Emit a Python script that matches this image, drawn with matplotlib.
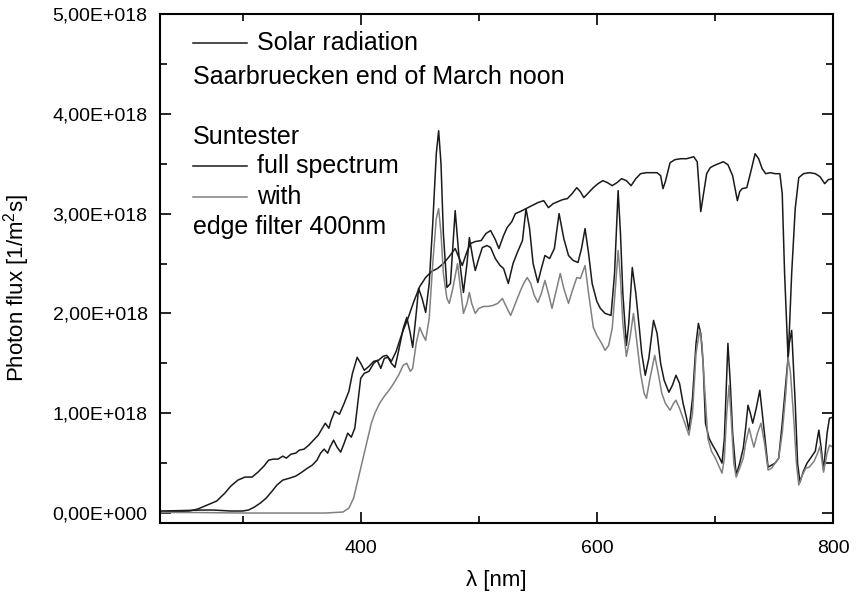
import numpy as np
import matplotlib
matplotlib.use("Agg")
import matplotlib.pyplot as plt
from matplotlib.ticker import FuncFormatter, MultipleLocator

plt.rcParams['font.family'] = ['Liberation Sans', 'DejaVu Sans']
plt.rcParams['mathtext.default'] = 'regular'

SCALE = 1e18

# Solar radiation, Saarbruecken end of March noon (values in 1E18 /m^2 s)
solar_wl = [230, 245, 255, 262, 270, 278, 285, 290, 296, 302, 308, 313, 318, 322, 326, 330,
            334, 337, 341, 345, 348, 352, 356, 360, 364, 368, 370, 373, 375, 378, 382, 386,
            390, 393, 397, 400, 403, 407, 411, 415, 419, 422, 426, 430, 435, 440, 445, 450,
            455, 460, 465, 470, 475, 480, 486, 490, 493, 497, 502, 506, 510, 514, 517, 521,
            524, 528, 531, 535, 540, 545, 550, 555, 559, 563, 567, 571, 575, 579, 583, 586,
            589, 593, 597, 601, 605, 609, 613, 617, 621, 625, 629, 633, 637, 642, 647, 651,
            654, 656, 658, 662, 666, 671, 676, 682, 685, 688, 691, 693, 696, 699, 703, 707,
            711, 715, 719, 721, 723, 727, 731, 734, 737, 740, 743, 747, 751, 755, 757, 759,
            762, 765, 768, 771, 775, 780, 785, 789, 793, 796, 800]
solar_val = [0.01, 0.015, 0.02, 0.04, 0.08, 0.12, 0.20, 0.27, 0.33, 0.36, 0.36, 0.41, 0.47, 0.53, 0.54, 0.54,
             0.57, 0.55, 0.59, 0.60, 0.63, 0.64, 0.68, 0.73, 0.78, 0.86, 0.90, 0.85, 0.93, 1.02, 0.99, 1.10,
             1.22, 1.40, 1.56, 1.50, 1.43, 1.47, 1.52, 1.53, 1.57, 1.58, 1.52, 1.62, 1.80, 1.95, 2.12, 2.27,
             2.36, 2.42, 2.45, 2.50, 2.57, 2.65, 2.48, 2.62, 2.70, 2.72, 2.73, 2.80, 2.83, 2.74, 2.65, 2.78,
             2.86, 2.92, 3.00, 3.02, 3.05, 3.08, 3.11, 3.13, 3.06, 3.10, 3.12, 3.14, 3.15, 3.20, 3.26, 3.22,
             3.16, 3.21, 3.26, 3.30, 3.33, 3.31, 3.28, 3.31, 3.35, 3.33, 3.28, 3.35, 3.40, 3.41, 3.41, 3.41,
             3.38, 3.25, 3.32, 3.51, 3.54, 3.55, 3.55, 3.57, 3.52, 3.02, 3.25, 3.40, 3.46, 3.48, 3.50, 3.52,
             3.49, 3.38, 3.13, 3.22, 3.25, 3.26, 3.45, 3.60, 3.55, 3.45, 3.40, 3.41, 3.40, 3.40, 3.20, 2.40,
             1.53, 2.40, 3.05, 3.36, 3.40, 3.41, 3.40, 3.37, 3.30, 3.34, 3.35]

# Suntester, full spectrum
full_wl = [230, 250, 265, 275, 290, 300, 305, 310, 315, 320, 325, 329, 334, 340, 345, 349,
           355, 359, 363, 366, 369, 372, 374, 377, 380, 383, 386, 389, 392, 395, 398, 400,
           403, 407, 411, 414, 417, 420, 423, 426, 429, 432, 436, 439, 442, 444, 447, 449,
           452, 455, 458, 461, 464, 466, 468, 470, 473, 476, 480, 483, 487, 490, 492, 495,
           497, 500, 503, 507, 510, 514, 518, 521, 525, 529, 533, 537, 540, 543, 546, 550,
           553, 556, 560, 564, 568, 572, 576, 580, 584, 587, 590, 593, 596, 600, 603, 607,
           612, 615, 618, 620, 622, 625, 627, 630, 633, 636, 638, 641, 644, 648, 651, 654,
           657, 661, 664, 667, 670, 673, 676, 678, 681, 684, 686, 688, 690, 692, 695, 698,
           701, 704, 706, 708, 710, 711, 713, 715, 718, 721, 724, 726, 728, 730, 732, 735,
           738, 741, 745, 748, 751, 754, 757, 760, 763, 765, 768, 770, 772, 775, 778, 781,
           785, 788, 790, 792, 795, 797, 800]
full_val = [0.02, 0.025, 0.03, 0.03, 0.02, 0.02, 0.03, 0.06, 0.10, 0.15, 0.22, 0.28, 0.33, 0.35, 0.37, 0.40,
            0.45, 0.48, 0.53, 0.60, 0.64, 0.60, 0.66, 0.73, 0.66, 0.61, 0.70, 0.80, 0.76, 0.85, 1.15, 1.35,
            1.40, 1.42, 1.50, 1.53, 1.45, 1.55, 1.56, 1.50, 1.46, 1.62, 1.85, 1.96, 1.80, 1.66, 2.00, 2.25,
            2.15, 2.01, 2.30, 2.90, 3.60, 3.83, 3.50, 2.80, 2.26, 2.30, 3.03, 2.60, 2.21, 2.50, 2.76, 2.55,
            2.43, 2.55, 2.66, 2.68, 2.66, 2.55, 2.48, 2.45, 2.30, 2.50, 2.62, 2.73, 3.05, 2.85, 2.50, 2.31,
            2.45, 2.58, 2.55, 2.65, 3.00, 2.75, 2.58, 2.53, 2.51, 2.65, 2.85, 2.60, 2.30, 2.12, 2.05, 2.00,
            1.98, 2.40, 3.23, 2.80, 2.20, 1.68, 1.90, 2.46, 2.20, 1.85, 1.60, 1.38, 1.55, 1.93, 1.80, 1.50,
            1.33, 1.21, 1.28, 1.38, 1.30, 1.10, 0.95, 0.83, 1.15, 1.70, 1.90, 1.80, 1.50, 0.90, 0.75, 0.68,
            0.62, 0.55, 0.50, 0.75, 1.40, 1.70, 1.30, 0.80, 0.38, 0.50, 0.65, 0.85, 1.08, 1.00, 0.90, 1.05,
            1.23, 0.90, 0.46, 0.48, 0.50, 0.55, 0.90, 1.30, 1.70, 1.83, 1.10, 0.50, 0.31, 0.42, 0.50, 0.55,
            0.62, 0.83, 0.65, 0.43, 0.80, 0.95, 0.96]

# Suntester with edge filter 400nm
filt_wl = [230, 260, 300, 340, 370, 385, 390, 394, 397, 401, 405, 409, 412, 416, 420, 424,
           428, 432, 436, 439, 442, 444, 447, 450, 452, 455, 458, 461, 464, 466, 468, 470,
           473, 475, 478, 482, 485, 487, 490, 492, 494, 497, 500, 504, 508, 512, 516, 520,
           524, 527, 531, 535, 538, 541, 544, 547, 550, 553, 556, 559, 562, 565, 569, 572,
           576, 579, 583, 586, 590, 593, 597, 600, 604, 607, 610, 613, 616, 618, 620, 622,
           625, 628, 631, 634, 637, 640, 642, 645, 649, 652, 655, 658, 662, 665, 667, 670,
           673, 676, 678, 681, 684, 687, 689, 691, 694, 697, 700, 703, 706, 708, 710, 712,
           714, 716, 718, 721, 724, 726, 729, 731, 733, 736, 739, 742, 745, 748, 751, 754,
           757, 760, 762, 764, 767, 769, 771, 774, 777, 780, 784, 787, 789, 791, 792, 795,
           797, 800]
filt_val = [0.005, 0.005, 0.0, 0.0, 0.0, 0.01, 0.05, 0.15, 0.30, 0.50, 0.70, 0.90, 1.00, 1.10, 1.17, 1.23,
            1.30, 1.38, 1.48, 1.50, 1.42, 1.45, 1.70, 1.86, 1.80, 1.73, 1.95, 2.50, 2.95, 3.05, 2.80, 2.40,
            2.15, 2.10, 2.25, 2.50, 2.20, 2.00, 2.10, 2.21, 2.10, 2.00, 2.05, 2.07, 2.07, 2.08, 2.10, 2.15,
            2.05, 1.98, 2.10, 2.22, 2.30, 2.36, 2.30, 2.18, 2.11, 2.20, 2.33, 2.20, 2.05, 2.20, 2.40, 2.25,
            2.10, 2.22, 2.36, 2.35, 2.48, 2.20, 1.86, 1.78, 1.70, 1.63, 1.68, 1.85, 2.30, 2.63, 2.35, 1.90,
            1.57, 1.75, 2.00, 1.70, 1.40, 1.20, 1.15, 1.35, 1.58, 1.40, 1.20, 1.10, 1.03, 1.10, 1.13, 1.05,
            0.95, 0.85, 0.78, 1.00, 1.60, 1.83, 1.70, 1.30, 0.75, 0.62, 0.56, 0.48, 0.40, 0.55, 1.00, 1.28,
            0.90, 0.50, 0.36, 0.45, 0.55, 0.70, 0.85, 0.75, 0.66, 0.80, 0.90, 0.70, 0.43, 0.45, 0.50, 0.55,
            0.80, 1.20, 1.56, 1.40, 0.90, 0.50, 0.28, 0.38, 0.45, 0.46, 0.52, 0.60, 0.67, 0.50, 0.41, 0.60,
            0.68, 0.66]


def sci_comma(v, pos):
    if v == 0:
        return "0,00E+000"
    e = int(np.floor(np.log10(abs(v)) + 1e-9))
    m = v / 10 ** e
    return f"{m:.2f}".replace('.', ',') + f"E{'+' if e >= 0 else '-'}{abs(e):03d}"


fig = plt.figure(figsize=(8.6, 6.01), dpi=100)
ax = fig.add_axes([160 / 860, 1 - 523 / 601, 673 / 860, 509 / 601])

ax.plot(solar_wl, np.array(solar_val) * SCALE, color='#1a1a1a', lw=1.1)
ax.plot(full_wl, np.array(full_val) * SCALE, color='#1a1a1a', lw=1.1)
ax.plot(filt_wl, np.array(filt_val) * SCALE, color='#808080', lw=1.1)

ax.set_xlim(230, 800)
ax.set_ylim(-0.1e18, 5e18)
ax.xaxis.set_major_locator(MultipleLocator(200))
ax.xaxis.set_minor_locator(MultipleLocator(100))
ax.yaxis.set_major_locator(MultipleLocator(1e18))
ax.yaxis.set_minor_locator(MultipleLocator(0.5e18))
ax.yaxis.set_major_formatter(FuncFormatter(sci_comma))

ax.tick_params(which='both', direction='in', top=True, right=True, width=1.2)
ax.tick_params(which='major', length=8, labelsize=14)
ax.tick_params(axis='y', which='major', pad=9)
ax.tick_params(axis='x', which='major', pad=12)
ax.tick_params(which='minor', length=5)
for s in ax.spines.values():
    s.set_linewidth(1.5)

ax.set_xlabel('λ [nm]', fontsize=16)
ax.set_ylabel('Photon flux [1/m$^2$s]', fontsize=16)
ax.xaxis.set_label_coords(0.5, -0.092)
ax.yaxis.set_label_coords(-0.19, 0.462)

# legend drawn as text block
tr = ax.transAxes
fs = 18
ax.plot([0.049, 0.130], [0.943, 0.943], color='#1a1a1a', lw=1.1, transform=tr)
ax.text(0.144, 0.943, 'Solar radiation', transform=tr, fontsize=fs, va='center')
ax.text(0.049, 0.876, 'Saarbruecken end of March noon', transform=tr, fontsize=fs, va='center')
ax.text(0.049, 0.758, 'Suntester', transform=tr, fontsize=fs, va='center')
ax.plot([0.049, 0.130], [0.701, 0.701], color='#1a1a1a', lw=1.1, transform=tr)
ax.text(0.144, 0.701, 'full spectrum', transform=tr, fontsize=fs, va='center')
ax.plot([0.049, 0.130], [0.640, 0.640], color='#808080', lw=1.1, transform=tr)
ax.text(0.144, 0.640, 'with', transform=tr, fontsize=fs, va='center')
ax.text(0.049, 0.582, 'edge filter 400nm', transform=tr, fontsize=fs, va='center')

fig.savefig('out.png', dpi=100)
